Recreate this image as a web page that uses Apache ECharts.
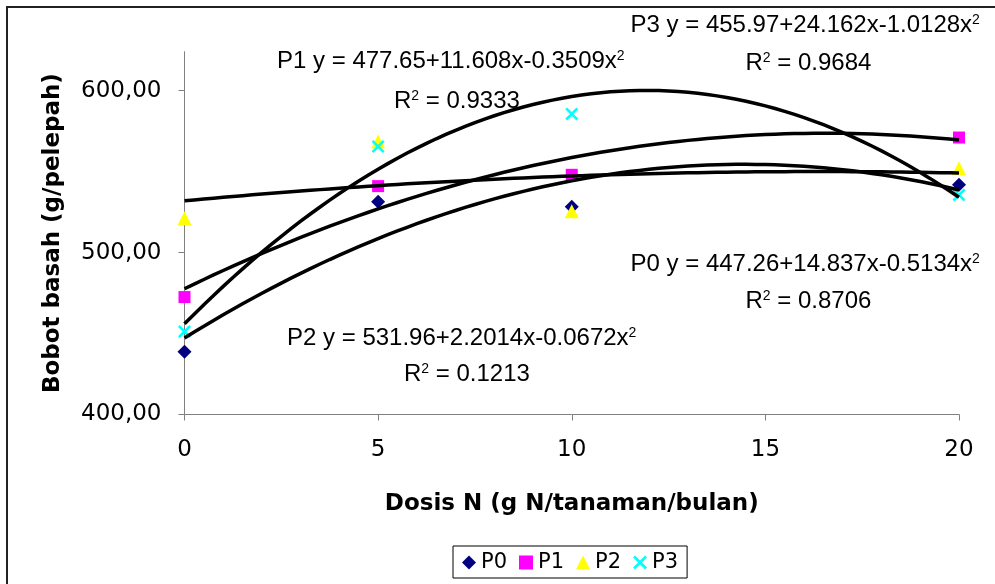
<!DOCTYPE html>
<html>
<head>
<meta charset="utf-8">
<script src="https://cdn.jsdelivr.net/npm/echarts@6/dist/echarts.min.js"></script>
<style>
  html, body { margin: 0; padding: 0; background: #fff; }
  #chart { width: 995px; height: 584px; }
</style>
</head>
<body>
<div id="chart"></div>
<script>
// dosis N (g N/tanaman/bulan)
const doses = [0, 5, 10, 20]
// bobot basah (g/pelepah)
const p0 = [438.7, 531.4, 528.2, 541.8]
const p1 = [472.5, 541.0, 548.0, 571.0]
const p2 = [521.2, 568.5, 525.5, 552.1]
const p3 = [451.2, 565.5, 585.6, 535.6]
// printed Excel trendline equations: a + b*x + c*x^2, and R^2
const trendP0 = [447.26, 14.837, -0.5134]
const trendP1 = [477.65, 11.608, -0.3509]
const trendP2 = [531.96, 2.2014, -0.0672]
const trendP3 = [455.97, 24.162, -1.0128]
const r2 = ['0.8706', '0.9333', '0.1213', '0.9684']
const yTicks = [400, 500, 600]

const labelFont = 'DejaVu Sans'
const noteFont = 'Liberation Sans'

// trendline curve over the plotted dose range
function trendCurve(coef) {
  const pts = []
  for (let i = 0; i <= 80; i++) {
    const x = i / 4
    pts.push([x, coef[0] + coef[1] * x + coef[2] * x * x])
  }
  return pts
}

function eqText(name, coef) {
  const fmt = (v) => String(Math.abs(v))
  const sign = (v) => (v < 0 ? '-' : '+')
  return '{m|' + name + ' y = ' + coef[0] + sign(coef[1]) + fmt(coef[1]) + 'x' +
    sign(coef[2]) + fmt(coef[2]) + 'x}{s|2}'
}

const richStyle = {
  m: { fontFamily: noteFont, fontSize: 24, lineHeight: 24, padding: [9, 0, 0, 0], verticalAlign: 'bottom', color: '#000' },
  s: { fontFamily: noteFont, fontSize: 14, lineHeight: 14, verticalAlign: 'top', color: '#000' },
}

function note(text, x, y) {
  return {
    type: 'text',
    x: x,
    y: y,
    z: 10,
    style: { text: text, rich: richStyle, verticalAlign: 'top', align: 'left' },
  }
}

const scatterBase = {
  type: 'scatter',
  z: 2,
  animation: false,
}
const trendBase = {
  type: 'line',
  showSymbol: false,
  symbol: 'none',
  silent: true,
  z: 3,
  lineStyle: { color: '#000', width: 3.5 },
  animation: false,
}

const crossPath = 'path://M0,1.4L1.4,0L5,3.6L8.6,0L10,1.4L6.4,5L10,8.6L8.6,10L5,6.4L1.4,10L0,8.6L3.6,5Z'

const chart = echarts.init(document.getElementById('chart'))
chart.setOption({
  backgroundColor: '#fff',
  animation: false,
  grid: { left: 184.5, right: 36, top: 51.7, bottom: 169.5 },
  xAxis: {
    type: 'value',
    min: 0,
    max: 20,
    interval: 5,
    name: 'Dosis N (g N/tanaman/bulan)',
    nameLocation: 'middle',
    nameGap: 78,
    nameTextStyle: { fontFamily: labelFont, fontWeight: 'bold', fontSize: 23, color: '#000' },
    axisLine: { lineStyle: { color: '#808080', width: 1 } },
    axisTick: { inside: false, length: 6, lineStyle: { color: '#808080' } },
    axisLabel: { fontFamily: labelFont, fontSize: 23, color: '#000', margin: 24 },
    splitLine: { show: false },
  },
  yAxis: {
    type: 'value',
    min: 400,
    max: 624,
    name: 'Bobot basah (g/pelepah)',
    nameLocation: 'middle',
    nameGap: 120,
    nameTextStyle: { fontFamily: labelFont, fontWeight: 'bold', fontSize: 23, color: '#000' },
    axisLine: { show: true, lineStyle: { color: '#808080', width: 1 } },
    axisTick: { show: true, inside: false, length: 6, customValues: yTicks, lineStyle: { color: '#808080' } },
    axisLabel: {
      fontFamily: labelFont,
      fontSize: 23,
      color: '#000',
      margin: 23,
      customValues: yTicks,
      formatter: (v) => v.toFixed(2).replace('.', ','),
    },
    splitLine: { show: false },
  },
  legend: {
    data: ['P0', 'P1', 'P2', 'P3'],
    left: 453,
    top: 546,
    orient: 'horizontal',
    padding: [6, 9, 5, 9],
    itemWidth: 14,
    itemHeight: 14,
    itemGap: 12,
    borderColor: '#000',
    borderWidth: 1,
    textStyle: { fontFamily: labelFont, fontSize: 21, color: '#000' },
  },
  graphic: [
    {
      type: 'rect',
      shape: { x: 7, y: 7, width: 1100, height: 700 },
      style: { fill: 'none', stroke: '#222', lineWidth: 2 },
      silent: true,
      z: 0,
    },
    note(eqText('P1', trendP1), 277, 49.5),
    note('{m|R}{s|2}{m| = ' + r2[1] + '}', 394, 89),
    note(eqText('P3', trendP3), 630.5, 13.5),
    note('{m|R}{s|2}{m| = ' + r2[3] + '}', 745.5, 51),
    note(eqText('P0', trendP0), 630.5, 252.5),
    note('{m|R}{s|2}{m| = ' + r2[0] + '}', 745.5, 289),
    note(eqText('P2', trendP2), 287, 326),
    note('{m|R}{s|2}{m| = ' + r2[2] + '}', 404, 362.5),
  ],
  series: [
    Object.assign({}, scatterBase, {
      name: 'P0',
      symbol: 'diamond',
      symbolSize: 14,
      itemStyle: { color: '#000080', opacity: 1 },
      data: doses.map((d, i) => [d, p0[i]]),
    }),
    Object.assign({}, scatterBase, {
      name: 'P1',
      symbol: 'rect',
      symbolSize: 12,
      itemStyle: { color: '#FF00FF', opacity: 1 },
      data: doses.map((d, i) => [d, p1[i]]),
    }),
    Object.assign({}, scatterBase, {
      name: 'P2',
      symbol: 'triangle',
      symbolSize: 14,
      itemStyle: { color: '#FFFF00', opacity: 1 },
      data: doses.map((d, i) => [d, p2[i]]),
    }),
    Object.assign({}, scatterBase, {
      name: 'P3',
      symbol: crossPath,
      symbolSize: 13,
      itemStyle: { color: '#00FFFF', opacity: 1 },
      data: doses.map((d, i) => [d, p3[i]]),
    }),
    Object.assign({}, trendBase, { name: 'P0 trend', data: trendCurve(trendP0) }),
    Object.assign({}, trendBase, { name: 'P1 trend', data: trendCurve(trendP1) }),
    Object.assign({}, trendBase, { name: 'P2 trend', data: trendCurve(trendP2) }),
    Object.assign({}, trendBase, { name: 'P3 trend', data: trendCurve(trendP3) }),
  ],
})
</script>
</body>
</html>
